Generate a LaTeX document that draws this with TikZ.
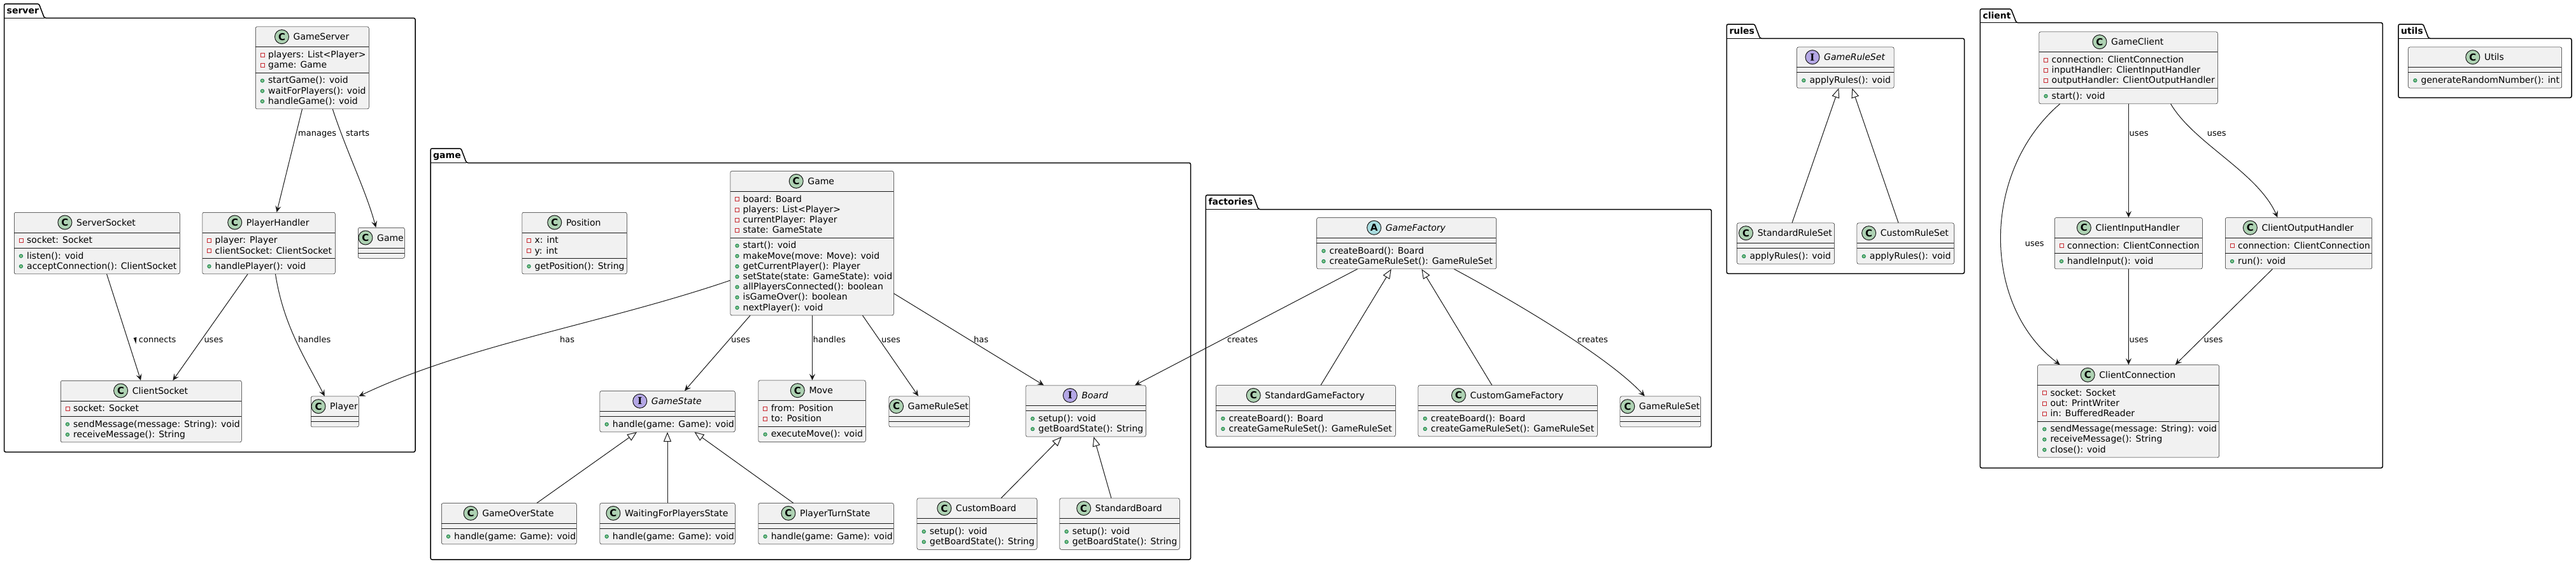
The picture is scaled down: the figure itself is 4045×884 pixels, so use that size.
\documentclass[tikz,border=0pt]{standalone}
\usepackage{fontspec}
\setmainfont{DejaVu Sans}
\newfontfamily\iconserif{DejaVu Serif}
\usetikzlibrary{arrows.meta,calc}
\definecolor{cfill}{HTML}{F1F1F1}
\definecolor{cline}{HTML}{181818}
\definecolor{iconC}{HTML}{ADD1B2}
\definecolor{iconI}{HTML}{B4A7E5}
\definecolor{iconA}{HTML}{A9DCDF}
\definecolor{privc}{HTML}{C82930}
\definecolor{pubfill}{HTML}{84BE84}
\definecolor{publine}{HTML}{038048}
\tikzset{
  classbox/.style={draw=cline, line width=0.5pt, fill=cfill, rounded corners=2.5pt, inner sep=0pt, rectangle},
  sepline/.style={draw=cline, line width=0.5pt},
  titletext/.style={inner sep=0pt, font=\fontsize{14}{16}\selectfont},
  membertext/.style={inner sep=0pt, font=\fontsize{14}{16}\selectfont},
  iconcirc/.style={circle, draw=cline, line width=1pt, minimum size=22pt, inner sep=0pt, font=\bfseries\fontsize{15}{15}\selectfont},
  privicon/.style={draw=privc, line width=0.8pt},
  pubicon/.style={draw=publine, fill=pubfill, line width=0.8pt},
  pkgline/.style={draw=black, line width=1.5pt},
  pkgname/.style={inner sep=0pt, font=\bfseries\fontsize{14}{16}\selectfont},
  assoc/.style={draw=cline, line width=1pt, -{Stealth[length=10pt,width=9pt,inset=4pt]}},
  inherit/.style={draw=cline, line width=1pt, -{Triangle[open,length=15pt,width=12pt,fill=white]}},
  lbl/.style={inner sep=0pt, font=\fontsize{13}{15}\selectfont, anchor=base west},
}
\newcommand\iconletter[1]{\if#1I{\iconserif\bfseries I}\else #1\fi}
% package: id, name, x1, tabTop, bodyTop, x2, bottom
\newcommand\umlpkg[7]{%
  \node[pkgname, anchor=base west] (#1-tab) at (#3+4,#4+15.3) {#2};
  \coordinate (#1-tt) at (#3,#4);
  \coordinate (#1-bt) at (#3,#5);
  \draw[pkgline, rounded corners=2.5pt] (#3,#7) -- (#3,#4) -- (#1-tab.east |- #1-tt) -- ($(#1-tab.east |- #1-bt)+(8.5,0)$) -- (#6,#5) -- (#6,#7) -- cycle;
  \draw[pkgline] (#1-bt) -- ($(#1-tab.east |- #1-bt)+(8.5,0)$);
}
% class: id, letter, title, x1, y1, x2, nattr, nmeth
\newcommand\umlbox[8]{%
  \pgfmathsetmacro\uH{48+16.2*(#7+#8)}%
  \pgfmathsetmacro\uW{#6-#4}%
  \pgfmathsetmacro\uHS{#5+32}%
  \pgfmathsetmacro\uAS{#5+40+16.2*#7}%
  \pgfmathsetmacro\uX{#4}%
  \pgfmathsetmacro\uCX{(#4+#6)/2+14.5}%
  \node[classbox, minimum width=\uW pt, minimum height=\uH pt, anchor=north west] (#1) at (#4,#5) {};
  \draw[sepline] (#4,\uHS) -- (#6,\uHS);
  \draw[sepline] (#4,\uAS) -- (#6,\uAS);
  \node[titletext, anchor=base] (#1-t) at (\uCX,#5+21) {#3};
  \coordinate (#1-hc) at (0,#5+16);
  \node[iconcirc, fill=icon#2] (#1-i) at ($(#1-t.west |- #1-hc)+(-18,0)$) {\iconletter{#2}};
}
\newcommand\umlattrs[2]{%
  \foreach \m [count=\i from 0] in {#2}{%
    \pgfmathsetmacro\yb{\uHS+16.8+16.2*\i}%
    \draw[privicon] (\uX+8,\yb-7.3) rectangle (\uX+14,\yb-1.3);
    \node[membertext, anchor=base west] (#1-a\i) at (\uX+20,\yb) {\m};
  }%
}
\newcommand\umlmeths[2]{%
  \foreach \m [count=\i from 0] in {#2}{%
    \pgfmathsetmacro\yb{\uAS+16.8+16.2*\i}%
    \draw[pubicon] (\uX+11,\yb-4.3) circle (2.7);
    \node[membertext, anchor=base west] (#1-m\i) at (\uX+20,\yb) {\m};
  }%
}
\begin{document}
\begin{tikzpicture}[x=1pt,y=-1pt]
\useasboundingbox (0,0) rectangle (4045,884);
\fill[white] (0,0) rectangle (4045,884);
% packages
\umlpkg{pserver}{server}{6.5}{6}{28.3}{652}{709.3}
\umlpkg{pgame}{game}{676}{233}{255.5}{1869.6}{878}
\umlpkg{pfact}{factories}{1893.4}{306}{328.5}{2687.3}{701.7}
\umlpkg{prules}{rules}{2711.3}{38}{60.3}{3084.5}{429.3}
\umlpkg{pclient}{client}{3109.3}{14}{35.7}{3741.4}{734.3}
\umlpkg{putils}{utils}{3766}{38}{60.3}{4038}{153.3}
% server
\umlbox{gs}{C}{GameServer}{401}{41.7}{579}{2}{3}
\umlattrs{gs}{{players: List<Player>},{game: Game}}
\umlmeths{gs}{{startGame(): void},{waitForPlayers(): void},{handleGame(): void}}
\umlbox{ss}{C}{ServerSocket}{22}{333}{282}{1}{2}
\umlattrs{ss}{{socket: Socket}}
\umlmeths{ss}{{listen(): void},{acceptConnection(): ClientSocket}}
\umlbox{ph}{C}{PlayerHandler}{317.5}{333}{526}{2}{1}
\umlattrs{ph}{{player: Player},{clientSocket: ClientSocket}}
\umlmeths{ph}{{handlePlayer(): void}}
\umlbox{sg}{C}{Game}{562}{357}{635}{0}{0}
\umlbox{cs}{C}{ClientSocket}{95}{597}{379}{1}{2}
\umlattrs{cs}{{socket: Socket}}
\umlmeths{cs}{{sendMessage(message: String): void},{receiveMessage(): String}}
\umlbox{pl}{C}{Player}{488}{621.7}{563}{0}{0}
% game
\umlbox{pos}{C}{Position}{819.5}{333}{984}{2}{1}
\umlattrs{pos}{{x: int},{y: int}}
\umlmeths{pos}{{getPosition(): String}}
\umlbox{gm}{C}{Game}{1146.5}{268.3}{1403}{4}{7}
\umlattrs{gm}{{board: Board},{players: List<Player>},{currentPlayer: Player},{state: GameState}}
\umlmeths{gm}{{start(): void},{makeMove(move: Move): void},{getCurrentPlayer(): Player},{setState(state: GameState): void},{allPlayersConnected(): boolean},{isGameOver(): boolean},{nextPlayer(): void}}
\umlbox{gst}{I}{\itshape GameState}{941.7}{613.3}{1154}{0}{1}
\umlmeths{gst}{{handle(game: Game): void}}
\umlbox{mv}{C}{Move}{1190.6}{596.7}{1359}{2}{1}
\umlattrs{mv}{{from: Position},{to: Position}}
\umlmeths{mv}{{executeMove(): void}}
\umlbox{ggrs}{C}{GameRuleSet}{1395.6}{621.5}{1522}{0}{0}
\umlbox{bd}{I}{\itshape Board}{1610.5}{604.5}{1799}{0}{2}
\umlmeths{bd}{{setup(): void},{getBoardState(): String}}
\umlbox{gos}{C}{GameOverState}{693}{789.3}{905}{0}{1}
\umlmeths{gos}{{handle(game: Game): void}}
\umlbox{wfp}{C}{WaitingForPlayersState}{941.7}{789.3}{1154}{0}{1}
\umlmeths{wfp}{{handle(game: Game): void}}
\umlbox{pts}{C}{PlayerTurnState}{1190.6}{789.3}{1403}{0}{1}
\umlmeths{pts}{{handle(game: Game): void}}
\umlbox{cb}{C}{CustomBoard}{1439.7}{781.6}{1628}{0}{2}
\umlmeths{cb}{{setup(): void},{getBoardState(): String}}
\umlbox{sb}{C}{StandardBoard}{1663.7}{781.6}{1852}{0}{2}
\umlmeths{sb}{{setup(): void},{getBoardState(): String}}
% factories
\umlbox{gf}{A}{\itshape GameFactory}{2067.4}{341.3}{2349.3}{0}{2}
\umlmeths{gf}{{createBoard(): Board},{createGameRuleSet(): GameRuleSet}}
\umlbox{sgf}{C}{StandardGameFactory}{1909.4}{604.3}{2191}{0}{2}
\umlmeths{sgf}{{createBoard(): Board},{createGameRuleSet(): GameRuleSet}}
\umlbox{cgf}{C}{CustomGameFactory}{2226.7}{604.3}{2508}{0}{2}
\umlmeths{cgf}{{createBoard(): Board},{createGameRuleSet(): GameRuleSet}}
\umlbox{fgrs}{C}{GameRuleSet}{2543.7}{621.7}{2670.3}{0}{0}
% rules
\umlbox{rgrs}{I}{\itshape GameRuleSet}{2821.3}{73.7}{2973.8}{0}{1}
\umlmeths{rgrs}{{applyRules(): void}}
\umlbox{srs}{C}{StandardRuleSet}{2727.3}{349.7}{2880.3}{0}{1}
\umlmeths{srs}{{applyRules(): void}}
\umlbox{crs}{C}{CustomRuleSet}{2915.7}{349.7}{3068}{0}{1}
\umlmeths{crs}{{applyRules(): void}}
% client
\umlbox{gc}{C}{GameClient}{3201.5}{49.7}{3482}{3}{1}
\umlattrs{gc}{{connection: ClientConnection},{inputHandler: ClientInputHandler},{outputHandler: ClientOutputHandler}}
\umlmeths{gc}{{start(): void}}
\umlbox{cih}{C}{ClientInputHandler}{3226}{341.3}{3458}{1}{1}
\umlattrs{cih}{{connection: ClientConnection}}
\umlmeths{cih}{{handleInput(): void}}
\umlbox{coh}{C}{ClientOutputHandler}{3494}{341.3}{3724.4}{1}{1}
\umlattrs{coh}{{connection: ClientConnection}}
\umlmeths{coh}{{run(): void}}
\umlbox{cc}{C}{ClientConnection}{3199.3}{572.3}{3484.3}{3}{3}
\umlattrs{cc}{{socket: Socket},{out: PrintWriter},{in: BufferedReader}}
\umlmeths{cc}{{sendMessage(message: String): void},{receiveMessage(): String},{close(): void}}
% utils
\umlbox{ut}{C}{Utils}{3781.4}{73.7}{4022.4}{0}{1}
\umlmeths{ut}{{generateRandomNumber(): int}}
% ---------- connectors ----------
% server
\draw[assoc] ([xshift=73.5pt]gs.south west) -- ([xshift=117pt]ph.north west);
\node[lbl] (l-manages) at (468,213.5) {manages};
\draw[assoc] ([xshift=121.3pt]gs.south west) .. controls (545,240) and (575,300) .. ([xshift=28.3pt]sg.north west);
\node[lbl] (l-starts) at (543,213.5) {starts};
\draw[assoc] ([xshift=145.6pt]ss.south west) -- ([xshift=126.1pt]cs.north west);
\fill[cline] (209.7,530.3) -- (214.5,529) -- (213.5,539.5) -- cycle;
\node[lbl] (l-connects) at (217.7,537.5) {connects};
\draw[assoc] ([xshift=71.5pt]ph.south west) -- ([xshift=176.4pt]cs.north west);
\node[lbl] (l-uses1) at (320.3,537.5) {uses};
\draw[assoc] ([xshift=115pt]ph.south west) .. controls (445,510) and (478,560) .. ([xshift=21.8pt]pl.north west);
\node[lbl] (l-handles1) at (468,537.5) {handles};
% game
\draw[assoc] ([yshift=-171.7pt]gm.north west) .. controls (946.5,508) and (734,540.7) .. (pl.north east);
\node[lbl] (l-has1) at (879,537.5) {has};
\draw[assoc] ([xshift=31.5pt]gm.south west) -- ([xshift=133.3pt]gst.north west);
\node[lbl] (l-uses2) at (1148,537.5) {uses};
\draw[assoc] ([xshift=129pt]gm.south west) -- ([xshift=84.9pt]mv.north west);
\node[lbl] (l-handles2) at (1276.5,537.5) {handles};
\draw[assoc] ([xshift=208pt]gm.south west) -- ([xshift=46.4pt]ggrs.north west);
\node[lbl] (l-uses3) at (1384,537.5) {uses};
\draw[assoc] ([yshift=-192.2pt]gm.north east) -- ([xshift=28.5pt]bd.north west);
\node[lbl] (l-has2) at (1529,537.5) {has};
\draw[inherit] ([xshift=150pt]gos.north west) -- ([xshift=58.3pt]gst.south west);
\draw[inherit] ([xshift=106.3pt]wfp.north west) -- ([xshift=106.3pt]gst.south west);
\draw[inherit] ([xshift=55.1pt]pts.north west) -- ([xshift=148.8pt]gst.south west);
\draw[inherit] ([xshift=132.3pt]cb.north west) -- ([xshift=56.5pt]bd.south west);
\draw[inherit] ([xshift=81.3pt]sb.north west) -- ([xshift=107pt]bd.south west);
% factories
\draw[assoc] ([xshift=64pt]gf.south west) -- ([xshift=171.5pt]bd.north west);
\node[lbl] (l-creates1) at (1927,537.5) {creates};
\draw[inherit] ([xshift=164.6pt]sgf.north west) -- ([xshift=117.3pt]gf.south west);
\draw[inherit] ([xshift=116pt]cgf.north west) -- ([xshift=164.9pt]gf.south west);
\draw[assoc] ([xshift=215.9pt]gf.south west) .. controls (2400,485) and (2530,565) .. ([xshift=39pt]fgrs.north west);
\node[lbl] (l-creates2) at (2476.7,537.5) {creates};
% rules
\draw[inherit] ([xshift=86.7pt]srs.north west) -- ([xshift=66pt]rgrs.south west);
\draw[inherit] ([xshift=65.3pt]crs.north west) -- ([xshift=87pt]rgrs.south west);
% client
\draw[assoc] ([xshift=140.9pt]gc.south west) -- ([xshift=116.4pt]cih.north west);
\node[lbl] (l-uses4) at (3343.5,213.5) {uses};
\draw[assoc] ([xshift=207.1pt]gc.south west) .. controls (3445,225) and (3545,270) .. ([xshift=82.4pt]coh.north west);
\node[lbl] (l-uses5) at (3465.7,213.5) {uses};
\draw[assoc] ([xshift=33.1pt]gc.south west) .. controls (3110,270) and (3112,480) .. ([xshift=35.4pt]cc.north west);
\node[lbl] (l-uses6) at (3179.6,386) {uses};
\draw[assoc] ([xshift=116.4pt]cih.south west) -- ([xshift=143.1pt]cc.north west);
\node[lbl] (l-uses7) at (3343.3,537.5) {uses};
\draw[assoc] ([xshift=74.4pt]coh.south west) -- ([xshift=216.4pt]cc.north west);
\node[lbl] (l-uses8) at (3460.3,537.5) {uses};
\end{tikzpicture}
\end{document}
